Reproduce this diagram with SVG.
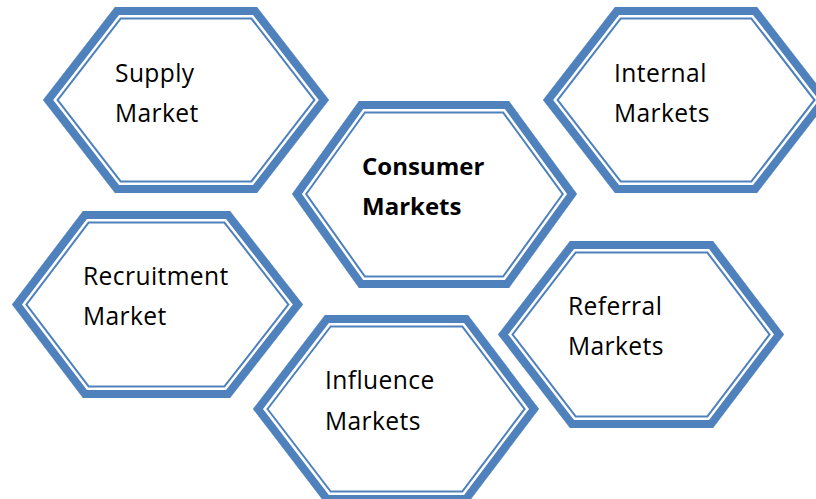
<svg xmlns="http://www.w3.org/2000/svg" xmlns:xlink="http://www.w3.org/1999/xlink" width="816" height="499" viewBox="0 0 816 499">
<style>
.a{fill:#fff;stroke:#4F81BD;stroke-width:25;stroke-linejoin:miter;stroke-miterlimit:10}
.b{fill:none;stroke:#fff;stroke-width:21;stroke-linejoin:miter;stroke-miterlimit:10}
.c{fill:none;stroke:#4F81BD;stroke-width:16;stroke-linejoin:miter;stroke-miterlimit:10}
text{font-family:"Open Sans","Liberation Sans",sans-serif;font-size:24.6px;fill:#000;letter-spacing:0.4px}
.bold{font-weight:bold;letter-spacing:0;font-size:24px}
</style>
<defs>
<path id="hs" d="M43,100 L115,7 L257,7 L329,100 L257,193 L115,193 Z"/>
<path id="hi" d="M543,100 L615,7 L757,7 L829,100 L757,193 L615,193 Z"/>
<path id="hc" d="M292,194 L359,101 L509,101 L577,194 L509,288 L359,288 Z"/>
<path id="hr" d="M12,304.5 L83,211 L230,211 L303,304.5 L230,398 L83,398 Z"/>
<path id="hf" d="M253,409 L325,315 L468,315 L539,409 L468,503 L325,503 Z"/>
<path id="he" d="M498,334.5 L570,241 L713,241 L784,334.5 L713,428 L570,428 Z"/>
<clipPath id="cs"><use href="#hs"/></clipPath>
<clipPath id="ci"><use href="#hi"/></clipPath>
<clipPath id="cc"><use href="#hc"/></clipPath>
<clipPath id="cr"><use href="#hr"/></clipPath>
<clipPath id="cf"><use href="#hf"/></clipPath>
<clipPath id="ce"><use href="#he"/></clipPath>
</defs>
<rect width="816" height="499" fill="#fff"/>
<g id="connectors"></g>
<g id="supply">
<g clip-path="url(#cs)"><use href="#hs" class="a"/><use href="#hs" class="b"/><use href="#hs" class="c"/></g>
<text x="115" y="82">Supply</text><text x="115" y="122">Market</text>
</g>
<g id="internal">
<g clip-path="url(#ci)"><use href="#hi" class="a"/><use href="#hi" class="b"/><use href="#hi" class="c"/></g>
<text x="614" y="82">Internal</text><text x="614" y="122">Markets</text>
</g>
<g id="consumer">
<g clip-path="url(#cc)"><use href="#hc" class="a"/><use href="#hc" class="b"/><use href="#hc" class="c"/></g>
<text class="bold" x="362" y="175">Consumer</text><text class="bold" x="362" y="215">Markets</text>
</g>
<g id="recruitment">
<g clip-path="url(#cr)"><use href="#hr" class="a"/><use href="#hr" class="b"/><use href="#hr" class="c"/></g>
<text x="83" y="285">Recruitment</text><text x="83" y="325">Market</text>
</g>
<g id="influence">
<g clip-path="url(#cf)"><use href="#hf" class="a"/><use href="#hf" class="b"/><use href="#hf" class="c"/></g>
<text x="325" y="389">Influence</text><text x="325" y="430">Markets</text>
</g>
<g id="referral">
<g clip-path="url(#ce)"><use href="#he" class="a"/><use href="#he" class="b"/><use href="#he" class="c"/></g>
<text x="568" y="315">Referral</text><text x="568" y="355">Markets</text>
</g>
</svg>
